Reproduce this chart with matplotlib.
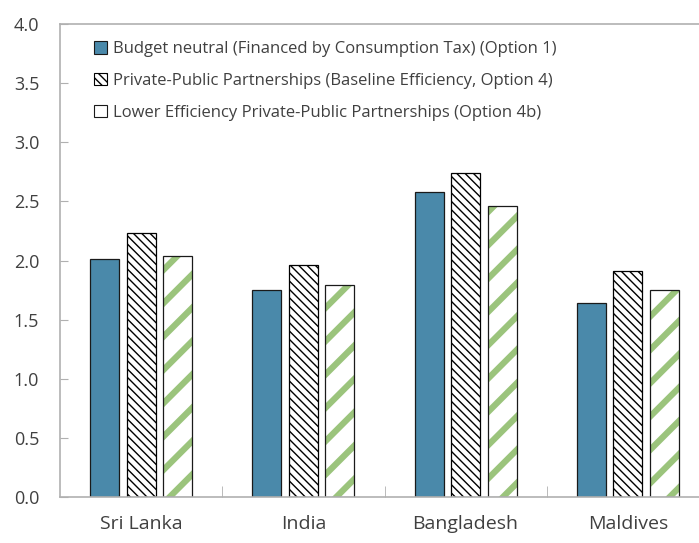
import numpy as np
import matplotlib.pyplot as plt
from matplotlib.patches import Patch

countries = ["Sri Lanka", "India", "Bangladesh", "Maldives"]
option1 = [2.01, 1.75, 2.58, 1.64]
option4 = [2.23, 1.96, 2.74, 1.91]
option4b = [2.04, 1.79, 2.46, 1.75]
labels = [
    "Budget neutral (Financed by Consumption Tax) (Option 1)",
    "Private-Public Partnerships (Baseline Efficiency, Option 4)",
    "Lower Efficiency Private-Public Partnerships (Option 4b)",
]

blue = "#4a89aa"
green = "#9bc47c"
grey = "#b0b0b0"
text_col = "#404040"

plt.rcParams["font.family"] = ["Open Sans", "DejaVu Sans"]

fig = plt.figure(figsize=(6.99, 5.43), dpi=100)
ax = fig.add_axes([60 / 699, 46 / 543, 649 / 699, 473 / 543])

x = np.arange(len(countries))
w = 0.18
off = 0.225

ax.bar(x - off, option1, w, color=blue, edgecolor="#1a1a1a", linewidth=0.9)

plt.rcParams["hatch.linewidth"] = 1.0
hb = ax.bar(x, option4, w, color="white", edgecolor="black", linewidth=0.9, hatch="\\\\\\\\")

# green stripes first, then a black outline on top
plt.rcParams["hatch.linewidth"] = 4.5
gb = ax.bar(x + off, option4b, w, color="white", edgecolor=green, linewidth=0, hatch="/")
for p in gb:
    if hasattr(p, "set_hatch_linewidth"):
        p.set_hatch_linewidth(4.5)
ax.bar(x + off, option4b, w, fill=False, edgecolor="#1a1a1a", linewidth=0.9)
plt.rcParams["hatch.linewidth"] = 1.0
for p in hb:
    if hasattr(p, "set_hatch_linewidth"):
        p.set_hatch_linewidth(1.0)

ax.set_xlim(-0.5, len(countries) - 0.5)
ax.set_ylim(0, 4)
ax.set_yticks(np.arange(0, 4.01, 0.5))
ax.set_yticklabels([f"{v:.1f}" for v in np.arange(0, 4.01, 0.5)])
ax.set_xticks(x)
ax.set_xticklabels(countries)
ax.set_xticks(np.arange(0.5, len(countries) - 0.5, 1), minor=True)

for s in ["left", "bottom", "top"]:
    ax.spines[s].set_color(grey)
    ax.spines[s].set_linewidth(1.2)
ax.spines["right"].set_visible(False)

ax.tick_params(axis="y", direction="in", length=6, color=grey, labelsize=13,
               labelcolor=text_col, pad=15)
ax.tick_params(axis="x", which="major", length=0, labelsize=14, labelcolor=text_col, pad=13)
ax.tick_params(axis="x", which="minor", direction="in", length=8, color=grey)

handles = [
    Patch(facecolor=blue, edgecolor="#1a1a1a", linewidth=0.8),
    Patch(facecolor="white", edgecolor="black", linewidth=0.8, hatch="\\\\\\\\"),
    Patch(facecolor="white", edgecolor="#1a1a1a", linewidth=0.8),
]
for h in handles:
    if hasattr(h, "set_hatch_linewidth"):
        h.set_hatch_linewidth(1.0)
leg = ax.legend(handles, labels, loc="upper left", bbox_to_anchor=(0.03, 0.995),
                frameon=False, fontsize=12, labelcolor=text_col, handlelength=0.75,
                handleheight=0.75, handletextpad=0.35, labelspacing=0.95)

fig.savefig("out.png", dpi=100)
